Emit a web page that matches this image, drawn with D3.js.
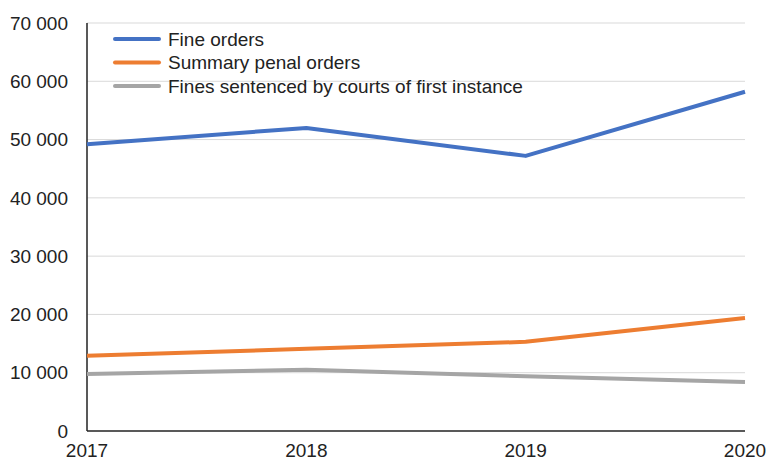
<!DOCTYPE html>
<html>
<head>
<meta charset="utf-8">
<script src="https://cdn.jsdelivr.net/npm/d3@7"></script>
<style>
body { margin: 0; background: #fff; }
text { font-family: "Liberation Sans", Arial, sans-serif; fill: #222; }
</style>
</head>
<body>
<svg id="chart" width="768" height="463"></svg>
<script>
var years = [2017, 2018, 2019, 2020]
var fineOrders = [49200, 52000, 47200, 58200]
var summaryPenal = [12900, 14100, 15300, 19400]
var finesCourts = [9800, 10500, 9400, 8400]
var seriesNames = ['Fine orders', 'Summary penal orders', 'Fines sentenced by courts of first instance']
var seriesColors = ['#4472c4', '#ed7d31', '#a5a5a5']
var yTicks = [0, 10000, 20000, 30000, 40000, 50000, 60000, 70000]

var svg = d3.select('#chart')
var plotLeft = 87, plotRight = 745, plotTop = 23, plotBottom = 431

var x = d3.scalePoint().domain(years).range([plotLeft, plotRight])
var y = d3.scaleLinear().domain([0, 70000]).range([plotBottom, plotTop])

// gridlines
svg.append('g').selectAll('line').data(yTicks.slice(1)).enter().append('line')
	.attr('x1', plotLeft).attr('x2', plotRight)
	.attr('y1', function(d){return y(d)}).attr('y2', function(d){return y(d)})
	.attr('stroke', '#d9d9d9').attr('stroke-width', 1)

// y labels
var fmt = function(d){ return d3.format(',')(d).replace(/,/g, ' ') }
svg.append('g').selectAll('text').data(yTicks).enter().append('text')
	.attr('x', 68).attr('y', function(d){return y(d)})
	.attr('dy', '0.35em').attr('text-anchor', 'end')
	.style('font-size', '19px')
	.text(fmt)

// x labels
svg.append('g').selectAll('text').data(years).enter().append('text')
	.attr('x', function(d){return x(d)}).attr('y', 457)
	.attr('text-anchor', 'middle')
	.style('font-size', '19px')
	.text(function(d){return d})

// axes lines
svg.append('line').attr('x1', plotLeft).attr('x2', plotLeft).attr('y1', plotTop).attr('y2', plotBottom)
	.attr('stroke', '#222').attr('stroke-width', 1.5)
svg.append('line').attr('x1', plotLeft).attr('x2', plotRight).attr('y1', plotBottom).attr('y2', plotBottom)
	.attr('stroke', '#222').attr('stroke-width', 1.5)

var line = d3.line().x(function(d, i){return x(years[i])}).y(function(d){return y(d)})
var allSeries = [fineOrders, summaryPenal, finesCourts]
svg.append('g').selectAll('path').data(allSeries).enter().append('path')
	.attr('d', line)
	.attr('fill', 'none')
	.attr('stroke', function(d, i){return seriesColors[i]})
	.attr('stroke-width', 4)
	.attr('stroke-linejoin', 'round')

// legend
var leg = svg.append('g').selectAll('g').data(seriesNames).enter().append('g')
	.attr('transform', function(d, i){return 'translate(115,' + (39 + i * 23.5) + ')'})
leg.append('line').attr('x1', 0).attr('x2', 44)
	.attr('stroke', function(d, i){return seriesColors[i]})
	.attr('stroke-width', 4).attr('stroke-linecap', 'round')
leg.append('text').attr('x', 53).attr('dy', '0.35em')
	.style('font-size', '19px')
	.text(function(d){return d})
</script>
</body>
</html>
